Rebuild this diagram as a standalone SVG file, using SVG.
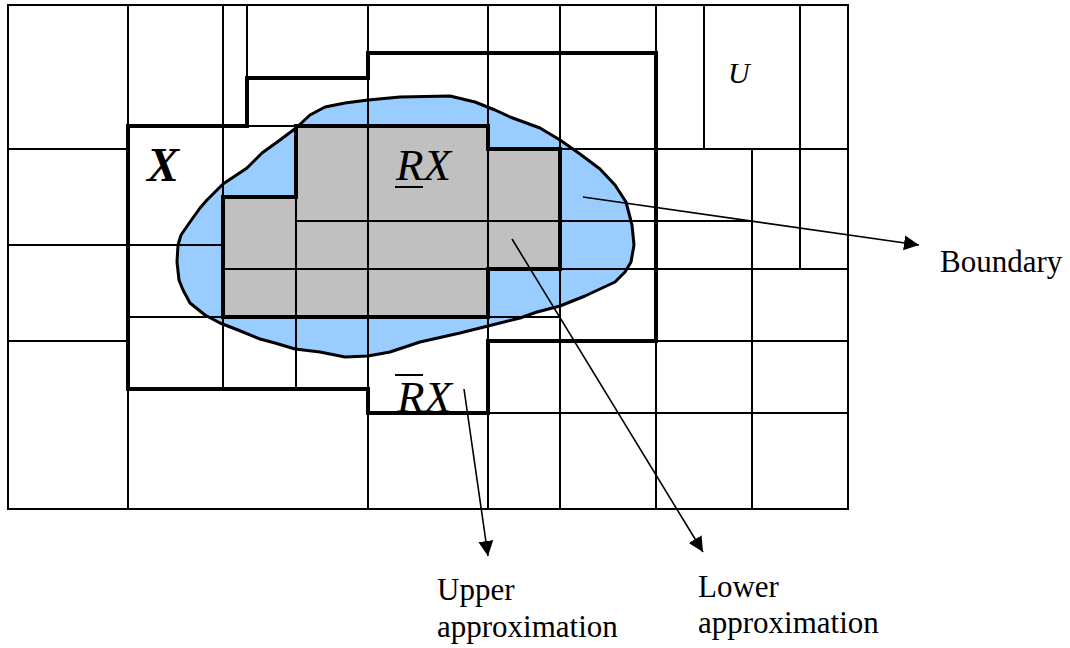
<svg xmlns="http://www.w3.org/2000/svg" width="1070" height="648" viewBox="0 0 1070 648">
<defs>
<style>
.thin{stroke:#000;stroke-width:2;fill:none;stroke-linecap:square}
.thick{stroke:#000;stroke-width:4;fill:none;stroke-linejoin:miter}
.arr{stroke:#000;stroke-width:1.6;fill:none}
text{font-family:"Liberation Serif",serif;fill:#000}
</style>
<marker id="ah" markerUnits="userSpaceOnUse" markerWidth="16" markerHeight="16" refX="15" refY="7.5" orient="auto" viewBox="0 0 16 16">
<path d="M0,0 L15,7.5 L0,15 Z" fill="#000"/>
</marker>
</defs>
<rect x="0" y="0" width="1070" height="648" fill="#fff"/>
<g id="boundary-region">
<path d="M296,128 L310,115 L325,107 L345,103 L368,100 L400,97 L450,96 L475,102 L495,110 L510,117 L540,128 L560,140 L580,154 L600,169 L615,185 L626,202 L632,225 L634,245 L631,262 L625,272 L615,282 L600,289 L585,296 L560,306 L537,312 L520,318 L488,326 L460,333 L420,342 L390,352 L368,356 L345,357 L320,352 L295,349 L275,343 L260,339 L238,330 L220,323 L205,315 L190,303 L183,290 L179,280 L177,262 L178,245 L181,235 L190,222 L200,208 L207,200 L223,184 L235,176 L247,168 L262,153 L280,140 Z" fill="#99CCFF" stroke="#000" stroke-width="3" stroke-linejoin="round"/>
</g>
<g id="lower-approximation">
<path d="M296,126 L488,126 L488,149 L560,149 L560,269 L488,269 L488,317 L223,317 L223,197 L296,197 Z" fill="#C0C0C0"/>
</g>
<g id="grid">
<rect x="8" y="5" width="840" height="504" class="thin"/>
<line x1="128" y1="5" x2="128" y2="509" class="thin"/>
<line x1="223" y1="5" x2="223" y2="389" class="thin"/>
<line x1="247" y1="5" x2="247" y2="126" class="thin"/>
<line x1="296" y1="126" x2="296" y2="389" class="thin"/>
<line x1="368" y1="5" x2="368" y2="509" class="thin"/>
<line x1="488" y1="5" x2="488" y2="509" class="thin"/>
<line x1="560" y1="5" x2="560" y2="509" class="thin"/>
<line x1="656" y1="5" x2="656" y2="509" class="thin"/>
<line x1="704" y1="5" x2="704" y2="149" class="thin"/>
<line x1="752" y1="149" x2="752" y2="509" class="thin"/>
<line x1="800" y1="5" x2="800" y2="269" class="thin"/>
<line x1="8" y1="149" x2="128" y2="149" class="thin"/>
<line x1="488" y1="149" x2="848" y2="149" class="thin"/>
<line x1="128" y1="126" x2="296" y2="126" class="thin"/>
<line x1="8" y1="245" x2="223" y2="245" class="thin"/>
<line x1="296" y1="221" x2="752" y2="221" class="thin"/>
<line x1="223" y1="269" x2="848" y2="269" class="thin"/>
<line x1="128" y1="317" x2="560" y2="317" class="thin"/>
<line x1="8" y1="341" x2="128" y2="341" class="thin"/>
<line x1="488" y1="341" x2="848" y2="341" class="thin"/>
<line x1="368" y1="413" x2="848" y2="413" class="thin"/>
</g>
<g id="lower-outline">
<path d="M296,126 L488,126 L488,149 L560,149 L560,269 L488,269 L488,317 L223,317 L223,197 L296,197 Z" class="thick"/>
</g>
<g id="upper-approximation">
<path d="M128,126 L247,126 L247,78 L368,78 L368,53 L656,53 L656,341 L488,341 L488,413 L368,413 L368,389 L128,389 Z" class="thick"/>
</g>
<g id="labels-math">
<text x="147" y="181" font-family="Liberation Serif" font-style="italic" font-size="48" font-weight="bold">X</text>
<text x="396" y="180" font-family="Liberation Serif" font-style="italic" font-size="45">RX</text>
<line x1="395" y1="187" x2="423" y2="187" stroke="#000" stroke-width="2"/>
<text x="397" y="412" font-family="Liberation Serif" font-style="italic" font-size="45">RX</text>
<line x1="395" y1="375" x2="423" y2="375" stroke="#000" stroke-width="2"/>
<text x="728" y="83" font-family="Liberation Serif" font-style="italic" font-size="30">U</text>
</g>
<g id="connectors">
<line x1="583" y1="197" x2="919" y2="245" class="arr" marker-end="url(#ah)"/>
<line x1="512" y1="239" x2="703" y2="552" class="arr" marker-end="url(#ah)"/>
<line x1="464" y1="389" x2="488" y2="556" class="arr" marker-end="url(#ah)"/>
</g>
<g id="label-boundary">
<text x="940" y="272" font-family="Liberation Serif" font-size="31">Boundary</text>
</g>
<g id="label-upper">
<text x="437" y="600" font-family="Liberation Serif" font-size="31">Upper</text>
<text x="437" y="637" font-family="Liberation Serif" font-size="31">approximation</text>
</g>
<g id="label-lower">
<text x="698" y="597" font-family="Liberation Serif" font-size="31">Lower</text>
<text x="698" y="633" font-family="Liberation Serif" font-size="31">approximation</text>
</g>
</svg>
